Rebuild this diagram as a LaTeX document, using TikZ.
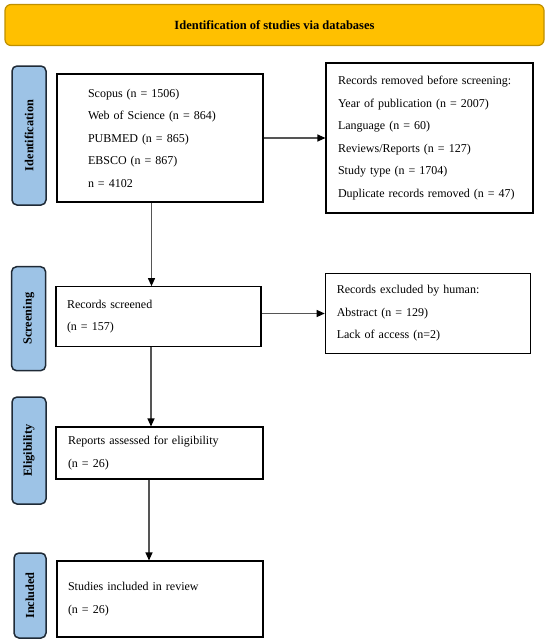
\documentclass[tikz,border=0pt]{standalone}
\usepackage{fontspec}
\setmainfont{Liberation Serif}
\usetikzlibrary{arrows.meta}
\definecolor{bannerfill}{HTML}{FFC000}
\definecolor{bannerdraw}{HTML}{BF9000}
\definecolor{labelfill}{HTML}{9DC3E6}
\definecolor{labeldraw}{HTML}{1F2A36}
\definecolor{arrowgray}{HTML}{555555}
\begin{document}
\begin{tikzpicture}[x=1pt,y=-1pt,
  banner/.style={draw=bannerdraw,line width=1.2pt,fill=bannerfill,rounded corners=6pt,
    minimum width=539pt,minimum height=41pt,inner sep=0pt,
    font=\fontsize{12.5}{15}\selectfont\bfseries},
  phase/.style={draw=labeldraw,line width=1.5pt,fill=labelfill,rounded corners=5pt,inner sep=0pt,
    font=\fontsize{12.3}{15}\selectfont\bfseries},
  flowbox/.style={draw=black,line width=1.1pt,fill=white,align=left,inner ysep=0pt,
    font=\fontsize{12}{22.5}\selectfont},
  flowarrow/.style={draw=arrowgray,line width=1.1pt,-{Triangle[length=8pt,width=7pt,color=black]}}
]
\useasboundingbox (0,0) rectangle (550,643);

\node[banner] (title) at (274.5,25) {Identification of studies via databases};

% phase labels
\node[phase,minimum width=34pt,minimum height=139pt] (pid) at (29,135.5)
  {\rotatebox{90}{Identification}};
\node[phase,minimum width=34pt,minimum height=104pt] (pscr) at (28.6,318.7)
  {\rotatebox{90}{Screening}};
\node[phase,minimum width=34pt,minimum height=107pt] (pel) at (29,450.5)
  {\rotatebox{90}{Eligibility}};
\node[phase,minimum width=32pt,minimum height=85pt] (pinc) at (30,595.5)
  {\rotatebox{90}{Included}};

% boxes
\node[flowbox,inner xsep=31pt,text width=144pt,minimum height=128pt] (ident) at (160,138)
  {Scopus (n = 1506)\\Web of Science (n = 864)\\PUBMED (n = 865)\\EBSCO (n = 867)\\n = 4102};
\node[flowbox,inner xsep=12pt,text width=183pt,minimum height=150pt] (removed) at (429.5,138)
  {Records removed before screening:\\Year of publication (n = 2007)\\Language (n = 60)\\Reviews/Reports (n = 127)\\Study type (n = 1704)\\Duplicate records removed (n = 47)};
\node[flowbox,inner xsep=11pt,text width=183pt,minimum height=60pt] (scr) at (158.5,316.7)
  {Records screened\\(n = 157)};
\node[flowbox,inner xsep=11.5pt,text width=182.5pt,minimum height=80pt] (excl) at (428,313.5)
  {Records excluded by human:\\Abstract (n = 129)\\Lack of access (n=2)};
\node[flowbox,inner xsep=12pt,text width=183pt,minimum height=52pt] (elig) at (159.5,453)
  {Reports assessed for eligibility\\(n = 26)};
\node[flowbox,inner xsep=11pt,text width=184pt,minimum height=76pt] (incl) at (160,599)
  {Studies included in review\\(n = 26)};

% arrows
\draw[flowarrow] (ident.east) -- (ident.east -| removed.west);
\draw[flowarrow] ([xshift=-8.5pt]ident.south) -- ([xshift=-8.5pt]ident.south |- scr.north);
\draw[flowarrow] (scr.east |- excl.west) -- (excl.west);
\draw[flowarrow] ([xshift=-7.5pt]scr.south) -- ([xshift=-7.5pt]scr.south |- elig.north);
\draw[flowarrow] ([xshift=-10.5pt]elig.south) -- ([xshift=-10.5pt]elig.south |- incl.north);
\end{tikzpicture}
\end{document}
